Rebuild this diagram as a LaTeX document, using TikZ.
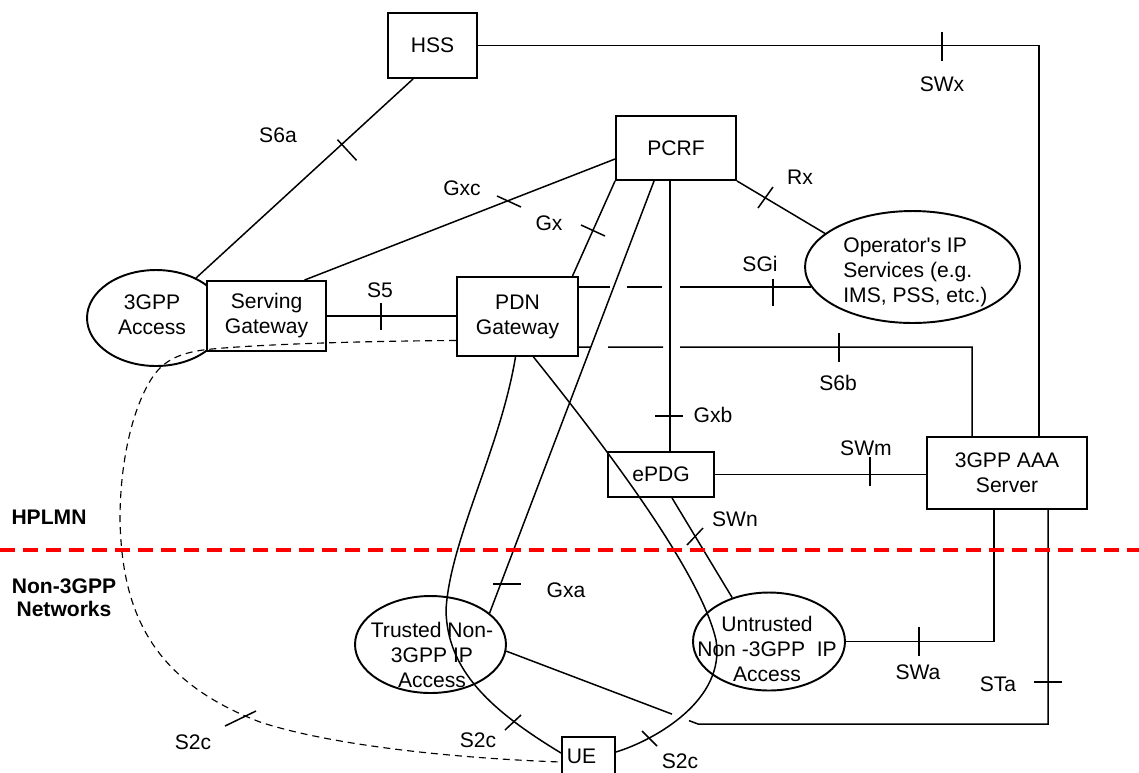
\documentclass[tikz,border=0pt]{standalone}
\usepackage{fontspec}
\setmainfont{Liberation Sans}[Ligatures=TeXOff]
\usetikzlibrary{calc,shapes.geometric}
\begin{document}
\begin{tikzpicture}[x=0.02cm,y=-0.02cm,
  every node/.style={font=\fontsize{12}{14.2}\selectfont},
  box/.style={draw, line width=1.1pt, fill=white, inner sep=0pt, align=center},
  ell/.style={ellipse, draw, line width=1.1pt, fill=white, inner sep=0pt},
  txt/.style={inner sep=0pt, align=center},
  conn/.style={line width=0.85pt},
  dsh/.style={line width=0.65pt, dash pattern=on 0.14cm off 0.1cm},
  tk/.style={line width=0.85pt},
  lbl/.style={inner sep=0pt},
  zone/.style={inner sep=0pt, align=center, font=\fontsize{12}{13.2}\selectfont\bfseries}]
\useasboundingbox (0,0) rectangle (1139,772);

% ---- nodes ----
\node[box, minimum width=1.78cm, minimum height=1.30cm] (HSS) at (432.5,45.5) {HSS};
\node[box, minimum width=2.4cm, minimum height=1.28cm] (PCRF) at (676,148) {PCRF};
\node[ell, minimum width=2.76cm, minimum height=1.92cm] (A3) at (156,318) {};
\node[txt] (A3t) at (152,315) {3GPP\\Access};
\node[box, minimum width=2.38cm, minimum height=1.40cm] (SGW) at (266.5,316) {Serving\\Gateway};
\node[box, minimum width=2.42cm, minimum height=1.58cm] (PDN) at (517.5,316.5) {PDN\\Gateway};
\node[ell, minimum width=4.3cm, minimum height=2.24cm] (OP) at (912.5,267) {};
\node[txt, align=left, anchor=west] (OPt) at (843,272) {Operator's IP\\Services (e.g.\\IMS, PSS, etc.)};
\node[box, minimum width=2.12cm, minimum height=0.9cm] (EPDG) at (661,474.5) {ePDG};
\node[box, minimum width=3.2cm, minimum height=1.44cm] (AAA) at (1007,473) {3GPP AAA\\Server};
\node[ell, minimum width=3.02cm, minimum height=1.94cm] (TR) at (430.5,644.5) {};
\node[txt] (TRt) at (432,655) {Trusted Non-\\3GPP IP\\Access};
\node[ell, minimum width=3.04cm, minimum height=1.96cm] (UT) at (769,641.5) {};
\node[txt] (UTt) at (767,649) {Untrusted\\Non -3GPP\ \ IP\\Access};
\node[box, minimum width=1.06cm, minimum height=0.76cm] (UE) at (588.5,756) {UE\hspace*{0.28cm}};

% ---- connectors ----
\draw[conn] (HSS.east) -| ($(AAA.north)+(32,0)$);
\draw[conn] ($(HSS.south west)+(26,0)$) -- (A3.45);
\draw[conn] ($(PCRF.west)+(0,11)$) -- ($(SGW.north)+(38,0)$);
\draw[conn] (PCRF.south west) -- ($(PDN.north)+(55,0)$);
\draw[conn] ($(PCRF.south west)+(39,0)$) -- (TR.28);
\draw[conn] ($(PCRF.south)+(-6,0)$) -- ($(EPDG.north)+(9,0)$);
\draw[conn] (PCRF.south east) -- (OP.159);
\draw[conn] (SGW.east) -- (SGW.east -| PDN.west);
\coordinate (sgiA) at ($(PDN.east)+(0,-29.5)$);
\draw[conn] (sgiA) -- (610,287) (627,287) -- (662,287) (680,287) -- (sgiA -| OP.191);
\coordinate (s6bA) at ($(PDN.east)+(0,30.5)$);
\draw[conn] (s6bA) -- (590,347) (608,347) -- (663,347) (680,347) -| ($(AAA.north)+(-35,0)$);
\draw[conn] (EPDG.east) -- (EPDG.east -| AAA.west);
\draw[conn] ($(EPDG.south)+(11,0)$) -- (UT.130);
\draw[conn] (UT.east) -| ($(AAA.south)+(-13,0)$);
\draw[conn] (TR.-5) -- (672,714.1) (689,720.6) -- (698,724) -| ($(AAA.south)+(41,0)$);
\draw[conn] ($(PDN.south)+(-2,0)$) .. controls (500,450) and (450,540) .. (446,610)
   .. controls (447,670) and (490,710) .. ($(UE.west)+(0,-3)$);
\draw[conn] ($(PDN.south)+(16,0)$) .. controls (600,440) and (700,570) .. (716,640)
   .. controls (726,700) and (655,740) .. ($(UE.east)+(0,-4)$);
\draw[dsh] ($(PDN.west)+(0,24)$) .. controls (370,341) and (260,344) .. (207,349.5)
   .. controls (185,352) and (170,358) .. (160,368)
   .. controls (140,388) and (120,445) .. (120,520)
   .. controls (122,610) and (150,680) .. (260,722)
   .. controls (330,745) and (450,758) .. ($(UE.west)+(0,6)$);

% ---- ticks ----
\draw[tk] (942,32) -- (942,61);
\draw[tk] (337.5,139.7) -- (356.5,160.3);
\draw[tk] (497,196) -- (521,207);
\draw[tk] (581,225) -- (605,236);
\draw[tk] (758,208) -- (773,187);
\draw[tk] (773,279) -- (773,306);
\draw[tk] (381,303) -- (381,330);
\draw[tk] (839,333) -- (839,362);
\draw[tk] (655,416) -- (683,416);
\draw[tk] (870,457) -- (870,486);
\draw[tk] (687,545) -- (703,528);
\draw[tk] (493,584) -- (521,584);
\draw[tk] (919,627) -- (919,656);
\draw[tk] (1034,682) -- (1062,682);
\draw[tk] (225,726) -- (256,711);
\draw[tk] (505,730) -- (521,715);
\draw[tk] (642,731) -- (657,746);

% ---- labels ----
\node[lbl] at (278,135) {S6a};
\node[lbl] at (942,84) {SWx};
\node[lbl] at (462,188) {Gxc};
\node[lbl] at (549,223) {Gx};
\node[lbl] at (800,177) {Rx};
\node[lbl] at (760,264) {SGi};
\node[lbl] at (380,290) {S5};
\node[lbl] at (838,383) {S6b};
\node[lbl] at (713,415) {Gxb};
\node[lbl] at (866,448) {SWm};
\node[lbl] at (735,519) {SWn};
\node[lbl] at (566,590) {Gxa};
\node[lbl] at (918,672) {SWa};
\node[lbl] at (998,684) {STa};
\node[lbl] at (193,742) {S2c};
\node[lbl] at (478,740) {S2c};
\node[lbl] at (680,761) {S2c};
\node[zone] at (49,517) {HPLMN};
\node[zone] at (64,598) {Non-3GPP\\Networks};

% ---- domain boundary ----
\draw[red, line width=0.08cm, dash pattern=on 0.3cm off 0.16cm] (0,550) -- (1139,550);
\end{tikzpicture}
\end{document}
